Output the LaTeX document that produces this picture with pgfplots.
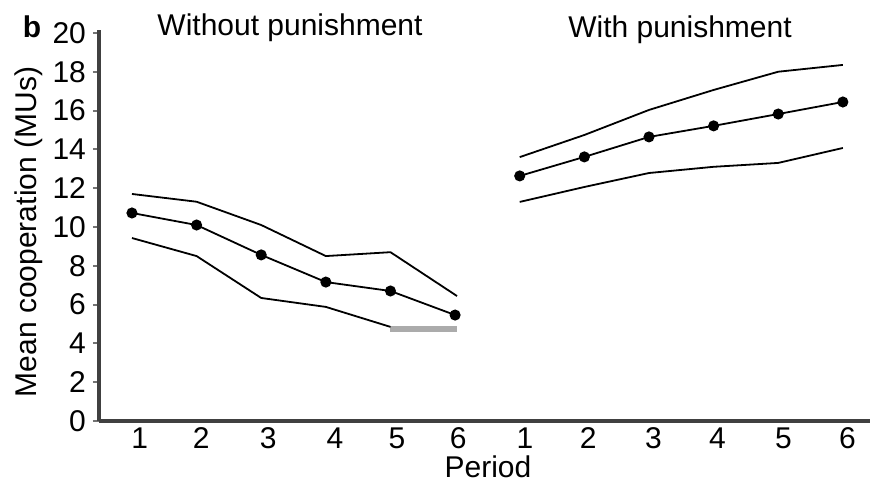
\documentclass[border=0pt]{standalone}
\usepackage{fontspec}
\setmainfont{Liberation Sans}
\usepackage{pgfplots}
\pgfplotsset{compat=1.18}
\newcommand{\ff}{\fontsize{15}{18}\selectfont}
\begin{document}
\begin{tikzpicture}
\useasboundingbox (-49.5pt,-30.5pt) rectangle (385.5pt,210.5pt);
\begin{axis}[
  at={(0,0)}, anchor=south west,
  scale only axis, width=385.5pt, height=195.5pt,
  xmin=-0.51, xmax=11.42, ymin=0, ymax=20.15,
  axis x line*=bottom, axis y line*=left,
  axis line style={draw=black!75, line width=2pt, -},
  xtick={0.12,1.07,2.11,3.14,4.10,5.05,6.08,7.06,8.07,9.06,10.08,11.07},
  xticklabels={1,2,3,4,5,6,1,2,3,4,5,6},
  major x tick style={draw=none},
  ytick={0,2,...,20},
  tick align=outside,
  major y tick style={draw=black!55, line width=1pt},
  major tick length=3pt,
  tick label style={font=\ff},
  xticklabel style={anchor=north, inner sep=0pt, text height=10.7pt, text depth=0pt},
  /pgf/number format/assume math mode=true,
  clip=false,
]
\addplot[black, line width=0.9pt, mark=*, mark size=2.3pt] coordinates {(0,10.72)(1,10.1)(2,8.56)(3,7.16)(4,6.70)(5,5.46)};
\addplot[black, line width=0.9pt] coordinates {(0,11.7)(1,11.3)(2,10.1)(3,8.5)(4,8.7)(5.03,6.44)};
\addplot[black!33, line width=3pt] coordinates {(4,4.72)(5.03,4.72)};
\addplot[black, line width=0.9pt] coordinates {(0,9.43)(1,8.5)(2,6.34)(3,5.88)(4,4.85)};
\addplot[black, line width=0.9pt, mark=*, mark size=2.3pt] coordinates {(6,12.63)(7,13.61)(8,14.64)(9,15.21)(10,15.82)(11,16.44)};
\addplot[black, line width=0.9pt] coordinates {(6,13.6)(7,14.74)(8,16.03)(9,17.06)(10,18.0)(11,18.35)};
\addplot[black, line width=0.9pt] coordinates {(6,11.29)(7,12.06)(8,12.78)(9,13.1)(10,13.3)(11,14.07)};
\end{axis}
\node[font=\ff\bfseries, anchor=base] at (-33.5pt,191.5pt) {b};
\node[font=\ff, anchor=base] at (95.5pt,192.5pt) {Without punishment};
\node[font=\ff, anchor=base] at (290.5pt,191.5pt) {With punishment};
\node[font=\ff, rotate=90] at (-35pt,94.5pt) {Mean cooperation (MUs)};
\node[font=\ff, anchor=base, inner sep=0pt] at (194.5pt,-28pt) {Period};
\end{tikzpicture}
\end{document}
